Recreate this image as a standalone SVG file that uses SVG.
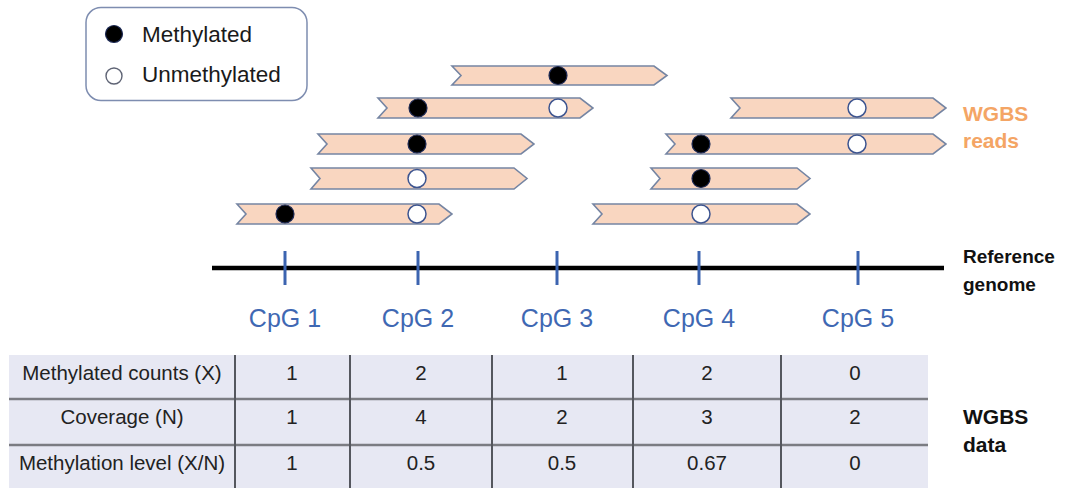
<svg xmlns="http://www.w3.org/2000/svg" width="1078" height="488" viewBox="0 0 1078 488">
<style>
text{font-family:"Liberation Sans",Arial,sans-serif;}
.lg{font-size:22.5px;fill:#1a1a1a;}
.read{fill:#f9d6c0;stroke:#7585a3;stroke-width:1.6;}
.m{fill:#000;stroke:#1d2a55;stroke-width:1.2;}
.u{fill:#fff;stroke:#3d5590;stroke-width:1.5;}
.cpg{font-size:25px;fill:#3f68b3;text-anchor:middle;}
.tick{stroke:#3c64b0;stroke-width:3;}
.side{font-size:19px;font-weight:bold;fill:#111;}
.w{font-size:21px;}
.or{fill:#f4a565;font-size:21px;font-weight:bold;}
.tb{font-size:20.5px;fill:#222;text-anchor:middle;}
.hl{stroke:#7b7c82;stroke-width:2.5;}
.vl{stroke:#55575e;stroke-width:2;}
</style>
<rect width="1078" height="488" fill="#fff"/>
<g id="legend">
<rect x="86" y="7.5" width="221" height="93" rx="15" fill="#fff" stroke="#7e8db0" stroke-width="1.5"/>
<circle cx="114" cy="34" r="8.5" class="m"/>
<circle cx="114" cy="76" r="8" fill="#fff" stroke="#5f6475" stroke-width="1.4"/>
<text x="142" y="41.5" class="lg">Methylated</text>
<text x="142" y="82" class="lg">Unmethylated</text>
</g>
<g id="reads">
<g id="read1"><polygon class="read" points="452,66 654,66 667,75.5 654,85 452,85 461,75.5"/><circle cx="558" cy="75.5" r="9" class="m"/></g>
<g id="read2a"><polygon class="read" points="378,98 580,98 593,108 580,118 378,118 387,108"/><circle cx="418" cy="108" r="9" class="m"/><circle cx="558" cy="108" r="9" class="u"/></g>
<g id="read2b"><polygon class="read" points="731,98 933,98 946,108 933,118 731,118 740,108"/><circle cx="857" cy="108" r="9" class="u"/></g>
<g id="read3a"><polygon class="read" points="318,134 521,134 534,144 521,154 318,154 327,144"/><circle cx="417" cy="144" r="9" class="m"/></g>
<g id="read3b"><polygon class="read" points="666,134 933,134 946,144 933,154 666,154 675,144"/><circle cx="701" cy="144" r="9" class="m"/><circle cx="857" cy="144" r="9" class="u"/></g>
<g id="read4a"><polygon class="read" points="311,168 514,168 527,178.5 514,189 311,189 320,178.5"/><circle cx="417" cy="178.5" r="9" class="u"/></g>
<g id="read4b"><polygon class="read" points="651,168 797,168 810,178.5 797,189 651,189 660,178.5"/><circle cx="701" cy="178.5" r="9" class="m"/></g>
<g id="read5a"><polygon class="read" points="237,204 439,204 452,214 439,224 237,224 246,214"/><circle cx="285" cy="214" r="9" class="m"/><circle cx="417" cy="214" r="9" class="u"/></g>
<g id="read5b"><polygon class="read" points="593,204 797,204 810,214 797,224 593,224 602,214"/><circle cx="701" cy="214" r="9" class="u"/></g>
</g>
<g id="wgbs-reads-label">
<text x="963" y="121" class="or">WGBS</text>
<text x="963" y="148" class="or">reads</text>
</g>
<g id="genome">
<line x1="212" y1="268" x2="944" y2="268" stroke="#000" stroke-width="4.5"/>
<line x1="285" y1="251" x2="285" y2="285" class="tick"/>
<line x1="418" y1="251" x2="418" y2="285" class="tick"/>
<line x1="557" y1="251" x2="557" y2="285" class="tick"/>
<line x1="699" y1="251" x2="699" y2="285" class="tick"/>
<line x1="858" y1="251" x2="858" y2="285" class="tick"/>
<text x="285" y="327" class="cpg">CpG 1</text>
<text x="418" y="327" class="cpg">CpG 2</text>
<text x="557" y="327" class="cpg">CpG 3</text>
<text x="699" y="327" class="cpg">CpG 4</text>
<text x="858" y="327" class="cpg">CpG 5</text>
<text x="963" y="263" class="side">Reference</text>
<text x="963" y="291" class="side">genome</text>
</g>
<g id="table">
<rect x="9" y="355" width="919" height="133" fill="#e7e8f3"/>
<line x1="9" y1="399" x2="928" y2="399" class="hl"/>
<line x1="9" y1="445" x2="928" y2="445" class="hl"/>
<line x1="235" y1="355" x2="235" y2="488" class="vl"/>
<line x1="350" y1="355" x2="350" y2="488" class="vl"/>
<line x1="492" y1="355" x2="492" y2="488" class="vl"/>
<line x1="633" y1="355" x2="633" y2="488" class="vl"/>
<line x1="781" y1="355" x2="781" y2="488" class="vl"/>
<text x="122" y="380" class="tb">Methylated counts (X)</text>
<text x="122" y="424" class="tb">Coverage (N)</text>
<text x="122" y="470" class="tb">Methylation level (X/N)</text>
<text x="292" y="380" class="tb">1</text>
<text x="421" y="380" class="tb">2</text>
<text x="562" y="380" class="tb">1</text>
<text x="707" y="380" class="tb">2</text>
<text x="855" y="380" class="tb">0</text>
<text x="292" y="424" class="tb">1</text>
<text x="421" y="424" class="tb">4</text>
<text x="562" y="424" class="tb">2</text>
<text x="707" y="424" class="tb">3</text>
<text x="855" y="424" class="tb">2</text>
<text x="292" y="470" class="tb">1</text>
<text x="421" y="470" class="tb">0.5</text>
<text x="562" y="470" class="tb">0.5</text>
<text x="707" y="470" class="tb">0.67</text>
<text x="855" y="470" class="tb">0</text>
</g>
<g id="wgbs-data-label">
<text x="963" y="424" class="side w">WGBS</text>
<text x="963" y="452" class="side w">data</text>
</g>
</svg>
